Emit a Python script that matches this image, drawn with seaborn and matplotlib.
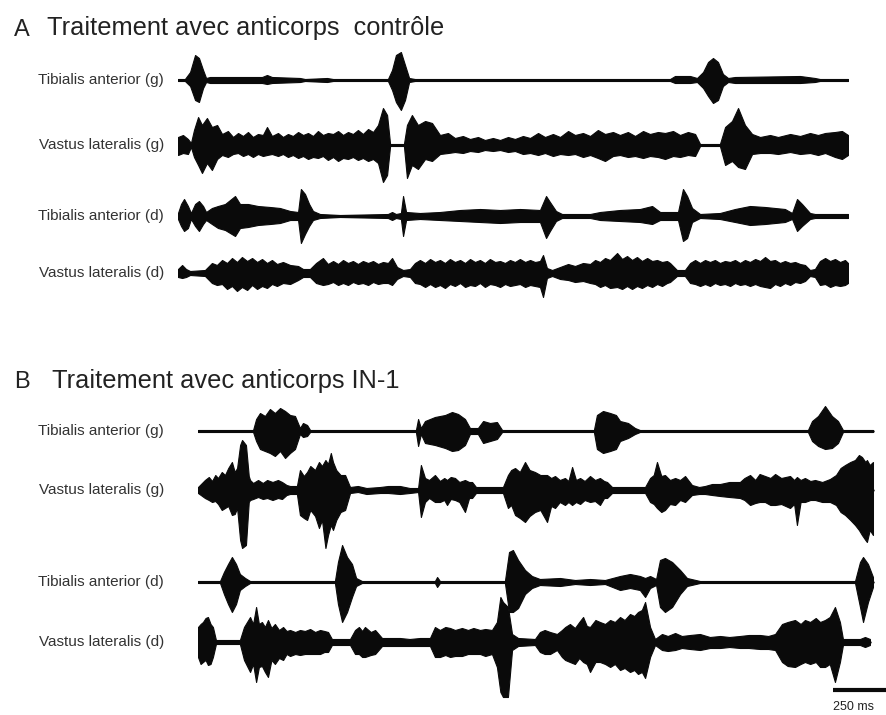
import numpy as np
import pandas as pd
import matplotlib
matplotlib.use("Agg")
import matplotlib.pyplot as plt
import seaborn as sns

# ---------------- data (time in ms, envelope amplitudes in arbitrary units) -------------
LABELS_A = ["Tibialis anterior (g)", "Vastus lateralis (g)", "Tibialis anterior (d)", "Vastus lateralis (d)"]
LABELS_B = ["Tibialis anterior (g)", "Vastus lateralis (g)", "Tibialis anterior (d)", "Vastus lateralis (d)"]
TITLE_A = "Traitement avec anticorps  contrôle"
TITLE_B = "Traitement avec anticorps IN-1"
SCALE_MS = 250

# Panel A - Tibialis anterior (g)
A_TAG_T = [0, 32, 56, 79, 97, 116, 130, 148, 389, 412, 435, 565, 588, 690, 718, 972, 991, 1009, 1032, 1051,
           1070, 1097, 2278, 2301, 2371, 2403, 2431, 2454, 2477, 2500, 2523, 2547, 2579, 2880, 2949, 2972, 3102]
A_TAG_UP = [1, 1, 8, 25, 22, 10, 2, 3, 3, 5, 3, 2, 1, 2, 1, 1, 10, 25, 28, 15, 2, 1, 1, 4, 4, 2, 8, 18, 22, 18,
            6, 2, 3, 4, 2, 1, 1]
A_TAG_DN = [1, 1, 6, 20, 22, 8, 2, 3, 3, 4, 3, 2, 1, 2, 1, 1, 10, 22, 30, 20, 2, 1, 1, 3, 3, 2, 8, 16, 23, 20,
            6, 2, 3, 3, 2, 1, 1]

# Panel A - Vastus lateralis (g)
A_VLG_T = [0, 23, 46, 60, 74, 93, 111, 134, 157, 181, 204, 231, 255, 278, 301, 324, 347, 370, 393, 412, 435,
           463, 486, 509, 532, 556, 579, 602, 625, 648, 671, 694, 718, 741, 764, 787, 810, 833, 856, 880, 903,
           926, 949, 968, 982, 1046, 1060, 1083, 1111, 1144, 1176, 1213, 1250, 1282, 1319, 1352, 1389, 1421,
           1458, 1491, 1528, 1560, 1597, 1630, 1667, 1699, 1736, 1769, 1806, 1838, 1875, 1908, 1944, 1977,
           2014, 2046, 2083, 2116, 2153, 2185, 2222, 2255, 2292, 2324, 2361, 2394, 2417, 2509, 2533, 2565,
           2593, 2625, 2658, 2695, 2741, 2778, 2834, 2880, 2926, 2963, 2996, 3042, 3074, 3102]
A_VLG_UP = [8, 10, 6, 2, 15, 28, 20, 27, 18, 20, 11, 14, 8, 12, 9, 13, 8, 11, 10, 18, 9,
            12, 8, 11, 9, 13, 10, 12, 9, 14, 10, 12, 11, 14, 10, 13, 11, 15, 11, 16, 13,
            20, 37, 30, 1, 1, 20, 30, 20, 24, 22, 10, 12, 7, 9, 6, 8, 5,
            7, 5, 8, 6, 9, 7, 12, 8, 11, 8, 14, 10, 12, 9, 15, 11,
            13, 10, 13, 9, 14, 11, 13, 12, 14, 10, 13, 11, 1, 1, 18, 24,
            37, 20, 11, 8, 10, 8, 11, 9, 12, 10, 12, 13, 14, 10]
A_VLG_DN = [10, 8, 9, 2, 12, 20, 28, 18, 25, 14, 10, 12, 9, 8, 11, 9, 12, 9, 11, 10, 9,
            11, 9, 12, 10, 13, 11, 14, 12, 13, 11, 15, 12, 16, 13, 14, 12, 15, 13, 16, 14,
            18, 37, 30, 1, 1, 33, 20, 24, 14, 16, 9, 8, 7, 8, 6, 7, 5,
            6, 5, 7, 6, 9, 8, 10, 8, 11, 9, 10, 9, 12, 10, 13, 16,
            11, 10, 12, 11, 13, 11, 12, 14, 11, 12, 10, 11, 1, 1, 20, 16,
            22, 24, 9, 8, 8, 9, 7, 9, 8, 10, 8, 12, 14, 10]

# Panel A - Tibialis anterior (d)
A_TAD_T = [0, 14, 28, 46, 60, 79, 97, 116, 130, 157, 185, 218, 264, 287, 324, 370, 426, 472, 519, 556, 569,
           588, 607, 625, 657, 750, 972, 991, 1009, 1032, 1042, 1056, 1120, 1213, 1306, 1398, 1491, 1583, 1676,
           1704, 1722, 1750, 1778, 1908, 1954, 2046, 2139, 2195, 2232, 2315, 2338, 2357, 2380, 2417, 2509,
           2579, 2648, 2718, 2810, 2843, 2866, 2889, 2926, 2949, 3102]
A_TAD_UP = [3, 12, 17, 10, 3, 12, 15, 10, 4, 8, 10, 12, 20, 12, 12, 10, 9, 8, 5, 4, 27, 22, 12, 5, 2, 1, 2, 4,
            2, 3, 20, 4, 3, 4, 6, 7, 6, 7, 6, 20, 14, 5, 2, 2, 4, 6, 7, 10, 4, 4, 27, 20, 8, 2, 3, 7, 10, 9,
            7, 3, 17, 12, 3, 2, 2]
A_TAD_DN = [3, 10, 15, 12, 3, 10, 15, 8, 4, 8, 12, 14, 20, 12, 11, 9, 8, 7, 4, 4, 27, 18, 10, 4, 2, 1, 2, 4,
            2, 3, 20, 4, 3, 4, 5, 6, 7, 6, 6, 22, 15, 5, 2, 2, 4, 5, 6, 8, 4, 4, 25, 22, 6, 2, 3, 6, 9, 8,
            6, 3, 15, 10, 3, 2, 2]

# Panel A - Vastus lateralis (d)
A_VLD_T = [0, 19, 37, 56, 125, 157, 180, 204, 227, 250, 273, 296, 320, 343, 366, 389, 412, 435, 458, 486,
           519, 556, 579, 611, 639, 671, 694, 718, 741, 764, 787, 810, 833, 856, 880, 903, 926, 949, 972, 991,
           1014, 1042, 1074, 1097, 1120, 1144, 1167, 1190, 1213, 1236, 1259, 1282, 1306, 1329, 1352, 1375,
           1398, 1421, 1444, 1468, 1491, 1514, 1537, 1560, 1583, 1607, 1630, 1653, 1676, 1690, 1708, 1732,
           1769, 1806, 1838, 1875, 1908, 1931, 1954, 1977, 2000, 2033, 2056, 2079, 2102, 2125, 2148, 2172,
           2195, 2218, 2241, 2264, 2278, 2310, 2347, 2371, 2394, 2417, 2440, 2463, 2486, 2509, 2532, 2556,
           2579, 2602, 2625, 2648, 2672, 2695, 2718, 2741, 2764, 2787, 2810, 2834, 2857, 2880, 2903, 2926,
           2949, 2972, 2996, 3019, 3042, 3065, 3088, 3102]
A_VLD_UP = [4, 8, 4, 2, 3, 10, 8, 13, 10, 15, 11, 16, 12, 15, 11, 14, 10, 13, 9, 11,
            8, 7, 4, 4, 10, 15, 9, 12, 9, 13, 10, 12, 9, 12, 10, 12, 9, 11, 10, 15,
            6, 3, 4, 10, 13, 10, 14, 11, 13, 10, 14, 11, 13, 10, 14, 11,
            13, 10, 14, 11, 12, 10, 13, 11, 14, 11, 13, 11, 12, 18, 5, 3,
            6, 9, 7, 10, 9, 13, 11, 15, 13, 20, 14, 17, 13, 16, 12, 15,
            12, 13, 11, 12, 10, 3, 3, 10, 13, 10, 13, 11, 13, 10, 12, 11,
            13, 10, 13, 11, 14, 12, 16, 12, 13, 10, 12, 10, 11, 9, 8, 3,
            4, 12, 15, 12, 14, 11, 13, 10]
A_VLD_DN = [4, 5, 4, 2, 3, 10, 12, 11, 16, 13, 18, 14, 17, 12, 16, 13, 15, 11, 13, 10,
            11, 7, 4, 4, 10, 12, 11, 9, 12, 10, 12, 9, 11, 10, 12, 9, 11, 10, 10, 12,
            6, 3, 4, 10, 11, 14, 11, 14, 12, 15, 11, 13, 10, 14, 12, 13,
            10, 14, 11, 12, 14, 11, 13, 12, 11, 14, 12, 13, 14, 24, 5, 3,
            6, 7, 9, 8, 10, 11, 14, 12, 15, 14, 16, 13, 16, 13, 15, 12,
            14, 11, 13, 10, 9, 3, 3, 10, 11, 13, 11, 13, 10, 12, 11, 13,
            10, 12, 11, 13, 11, 13, 14, 15, 11, 13, 10, 12, 9, 10, 8, 3,
            4, 12, 11, 14, 12, 13, 12, 10]

# Panel B - Tibialis anterior (g)
B_TAG_T = [0, 255, 269, 287, 310, 333, 356, 380, 403, 426, 449, 472, 486, 505, 519, 1009, 1019, 1032, 1051,
           1097, 1144, 1176, 1204, 1236, 1259, 1296, 1320, 1352, 1384, 1408, 1833, 1847, 1875, 1908, 1935,
           1954, 1991, 2023, 2046, 2824, 2843, 2871, 2903, 2935, 2963, 2986, 3125]
B_TAG_UP = [1, 1, 12, 18, 15, 22, 18, 23, 20, 16, 15, 3, 8, 6, 1, 1, 12, 3, 10, 14, 16, 19, 17, 12, 3, 3, 10,
            8, 9, 1, 1, 16, 20, 18, 16, 10, 8, 3, 1, 1, 10, 15, 25, 15, 10, 1, 1]
B_TAG_DN = [1, 1, 10, 18, 20, 22, 25, 20, 27, 22, 18, 3, 6, 5, 1, 1, 15, 3, 12, 14, 17, 20, 19, 14, 3, 3, 12,
            10, 8, 1, 1, 18, 22, 20, 18, 10, 7, 3, 1, 1, 10, 15, 18, 17, 12, 1, 1]

# Panel B - Vastus lateralis (g)
B_VLG_T = [0, 32, 50, 65, 80, 93, 110, 125, 140, 157, 170, 181, 195, 204, 222, 235, 241, 255, 278, 300,
           320, 345, 370, 389, 410, 426, 458, 472, 490, 505, 520, 542, 560, 574, 590, 602, 615, 625, 640, 660,
           681, 704, 740, 780, 843, 880, 935, 980, 1019, 1032, 1051, 1070, 1097, 1120, 1140, 1153, 1170, 1190,
           1210, 1236, 1255, 1269, 1287, 1340, 1412, 1435, 1450, 1468, 1490, 1514, 1535, 1560, 1585, 1616,
           1635, 1653, 1675, 1699, 1715, 1732, 1750, 1769, 1790, 1815, 1838, 1861, 1880, 1894, 1917, 2000,
           2070, 2093, 2110, 2125, 2145, 2162, 2185, 2209, 2232, 2255, 2287, 2320, 2347, 2380, 2417, 2460,
           2509, 2530, 2556, 2580, 2600, 2625, 2650, 2672, 2700, 2741, 2760, 2773, 2790, 2810, 2835, 2857,
           2890, 2926, 2954, 2975, 2996, 3020, 3042, 3060, 3074, 3090, 3097, 3110, 3125]
B_VLG_UP = [3, 10, 13, 9, 15, 12, 18, 15, 22, 28, 18, 22, 45, 50, 45, 14, 10, 7, 10, 7,
            10, 8, 10, 8, 5, 4, 4, 20, 14, 18, 24, 20, 28, 24, 30, 26, 37, 28, 20, 15,
            15, 3, 4, 2, 3, 4, 4, 2, 2, 25, 12, 10, 15, 9, 12, 10, 13, 12,
            8, 10, 8, 8, 3, 3, 3, 15, 20, 22, 18, 28, 20, 18, 15, 15,
            12, 14, 10, 12, 9, 23, 10, 12, 9, 14, 10, 12, 9, 8, 3, 3,
            3, 12, 15, 28, 14, 15, 10, 12, 10, 14, 5, 3, 4, 6, 6, 8,
            8, 12, 15, 10, 16, 14, 12, 16, 12, 14, 10, 13, 10, 12, 9, 10,
            8, 11, 15, 22, 25, 28, 30, 35, 33, 28, 30, 25, 28]
B_VLG_DN = [3, 8, 10, 12, 11, 14, 20, 18, 16, 25, 24, 18, 50, 58, 55, 12, 10, 9, 7, 9,
            8, 10, 8, 9, 5, 4, 4, 25, 28, 30, 20, 26, 38, 30, 58, 45, 35, 40, 30, 22,
            20, 3, 2, 4, 3, 3, 4, 3, 2, 27, 12, 8, 12, 12, 10, 15, 9, 10,
            12, 22, 8, 8, 3, 3, 3, 18, 15, 25, 28, 32, 26, 22, 20, 32,
            16, 18, 12, 15, 12, 15, 12, 14, 10, 12, 11, 15, 8, 8, 3, 3,
            3, 12, 14, 18, 22, 20, 14, 15, 10, 12, 5, 4, 4, 5, 6, 7,
            8, 10, 15, 13, 12, 12, 15, 15, 14, 18, 14, 35, 12, 12, 10, 10,
            12, 12, 15, 22, 25, 30, 35, 40, 45, 50, 52, 40, 45]

# Panel B - Tibialis anterior (d)
B_TAD_T = [0, 102, 120, 139, 157, 176, 194, 218, 241, 634, 648, 667, 690, 713, 732, 759, 1097, 1107, 1120,
           1421, 1440, 1458, 1482, 1514, 1546, 1583, 1676, 1746, 1815, 1884, 1954, 2000, 2046, 2070, 2093,
           2121, 2139, 2162, 2195, 2232, 2264, 2324, 3042, 3065, 3079, 3102, 3125]
B_TAD_UP = [1, 1, 10, 18, 25, 18, 8, 4, 1, 1, 20, 37, 25, 18, 4, 1, 1, 5, 1, 1, 30, 32, 22, 12, 6, 3, 4, 2, 3,
            2, 6, 8, 6, 4, 6, 3, 22, 24, 20, 12, 4, 1, 1, 20, 25, 18, 5]
B_TAD_DN = [1, 1, 12, 22, 30, 22, 8, 4, 1, 1, 22, 40, 30, 15, 4, 1, 1, 5, 1, 1, 30, 30, 26, 12, 6, 3, 4, 2, 3,
            2, 8, 6, 8, 15, 6, 3, 25, 30, 25, 12, 4, 1, 1, 25, 40, 20, 5]

# Panel B - Vastus lateralis (d)
B_VLD_T = [0, 12, 23, 35, 46, 58, 69, 83, 194, 213, 227, 241, 255, 269, 282, 296, 310, 324, 340, 356,
           375, 394, 410, 426, 450, 472, 495, 519, 542, 565, 585, 602, 620, 704, 727, 745, 760, 773, 800, 820,
           852, 935, 980, 1028, 1074, 1097, 1120, 1145, 1167, 1190, 1222, 1250, 1275, 1306, 1330, 1361, 1384,
           1400, 1412, 1435, 1454, 1482, 1560, 1583, 1605, 1630, 1662, 1685, 1700, 1722, 1745, 1765, 1783,
           1800, 1815, 1840, 1861, 1885, 1908, 1930, 1954, 1975, 2000, 2020, 2037, 2055, 2070, 2093, 2116,
           2148, 2175, 2209, 2240, 2278, 2324, 2370, 2417, 2460, 2509, 2550, 2602, 2640, 2672, 2704, 2730,
           2764, 2790, 2810, 2834, 2860, 2880, 2903, 2925, 2949, 2972, 2986, 3065, 3088, 3111]
B_VLD_UP = [15, 18, 20, 24, 25, 18, 15, 2, 2, 15, 20, 25, 18, 35, 18, 20, 15, 22, 14, 18,
            12, 15, 11, 12, 10, 12, 11, 13, 10, 12, 11, 10, 3, 3, 12, 15, 11, 15, 10, 12,
            4, 4, 3, 4, 4, 15, 12, 15, 14, 12, 14, 12, 14, 12, 13, 12, 20,
            45, 40, 35, 8, 4, 3, 10, 12, 10, 8, 12, 15, 18, 14, 20, 25,
            16, 15, 22, 20, 18, 22, 20, 25, 22, 28, 26, 30, 32, 40, 15, 3,
            8, 6, 9, 6, 7, 8, 5, 6, 5, 6, 7, 7, 6, 8, 18, 20,
            22, 18, 22, 20, 24, 20, 22, 25, 35, 20, 3, 3, 5, 3]
B_VLD_DN = [15, 22, 20, 18, 23, 22, 15, 2, 2, 18, 24, 30, 22, 40, 25, 24, 30, 35, 18, 22,
            16, 18, 12, 14, 12, 13, 12, 12, 12, 12, 10, 10, 3, 3, 12, 12, 15, 15, 13, 12,
            4, 4, 4, 4, 4, 15, 15, 13, 15, 14, 14, 12, 12, 12, 14, 12, 25,
            50, 55, 55, 8, 4, 3, 10, 12, 12, 8, 15, 18, 20, 22, 16, 20,
            22, 30, 20, 20, 22, 25, 22, 28, 26, 30, 28, 32, 30, 36, 15, 3,
            8, 9, 8, 6, 7, 8, 6, 6, 5, 6, 6, 7, 7, 8, 20, 24,
            25, 22, 20, 22, 20, 25, 25, 22, 40, 20, 3, 3, 5, 3]

TRACES_A = [(A_TAG_T, A_TAG_UP, A_TAG_DN), (A_VLG_T, A_VLG_UP, A_VLG_DN),
            (A_TAD_T, A_TAD_UP, A_TAD_DN), (A_VLD_T, A_VLD_UP, A_VLD_DN)]
TRACES_B = [(B_TAG_T, B_TAG_UP, B_TAG_DN), (B_VLG_T, B_VLG_UP, B_VLG_DN),
            (B_TAD_T, B_TAD_UP, B_TAD_DN), (B_VLD_T, B_VLD_UP, B_VLD_DN)]

for name, tr in [("A", TRACES_A), ("B", TRACES_B)]:
    for i, (t, u, d) in enumerate(tr):
        assert len(t) == len(u) == len(d), (name, i, len(t), len(u), len(d))

# ---------------- layout ----------------
W, H = 887, 715
OFFS_A = [0, -65, -136, -193]
OFFS_B = [0, -59, -151, -211]

sns.set_style("white")
plt.rcParams["font.family"] = ["Liberation Sans", "DejaVu Sans"]

fig = plt.figure(figsize=(W / 100, H / 100), dpi=100)
fig.patch.set_facecolor("white")


def px_axes(x0, y0, x1, y1):
    return fig.add_axes([x0 / W, 1 - y1 / H, (x1 - x0) / W, (y1 - y0) / H])


axA = px_axes(178, 45, 848, 310)
axA.set_xlim(0, 3102)
axA.set_ylim(-230, 35)

axB = px_axes(198, 395, 887, 715)
axB.set_xlim(0, 3190)
axB.set_ylim(-284, 36)

INK = "#0a0a0a"


def draw(ax, traces, offs):
    for (t, up, dn), off in zip(traces, offs):
        t = np.asarray(t, float)
        up = np.asarray(up, float)
        dn = np.asarray(dn, float)
        df = pd.DataFrame({"t": [t[0], t[-1]], "y": [off, off]})
        sns.lineplot(data=df, x="t", y="y", ax=ax, color=INK, lw=1.8)
        ax.fill_between(t, off + up, off - dn, color=INK, lw=0.8, edgecolor=INK)


draw(axA, TRACES_A, OFFS_A)
draw(axB, TRACES_B, OFFS_B)

# scale bar (panel B coordinates)
sb_t1 = axB.get_xlim()[1]
sb_t0 = sb_t1 - SCALE_MS
axB.plot([sb_t0, sb_t1], [-259, -259], color=INK, lw=3, solid_capstyle="butt", clip_on=False)
axB.text(sb_t0, -276, f"{SCALE_MS} ms", ha="left", va="center", fontsize=9, color="#222")

for ax in (axA, axB):
    ax.axis("off")

# trace labels
for lab, yy in zip(LABELS_A, [80, 145, 216, 273]):
    fig.text(164 / W, 1 - yy / H, lab, ha="right", va="center", fontsize=11, color="#333")
for lab, yy in zip(LABELS_B, [431, 490, 582, 642]):
    fig.text(164 / W, 1 - yy / H, lab, ha="right", va="center", fontsize=11, color="#333")

# panel titles
fig.text(14 / W, 1 - 30 / H, "A", ha="left", va="center", fontsize=17, color="#222")
fig.text(47 / W, 1 - 28 / H, TITLE_A, ha="left", va="center", fontsize=18.3, color="#222")
fig.text(14 / W, 1 - 382 / H, "B", ha="left", va="center", fontsize=17, color="#222")
fig.text(52 / W, 1 - 381 / H, TITLE_B, ha="left", va="center", fontsize=18.3, color="#222")

fig.savefig("out.png", dpi=100, facecolor="white")
